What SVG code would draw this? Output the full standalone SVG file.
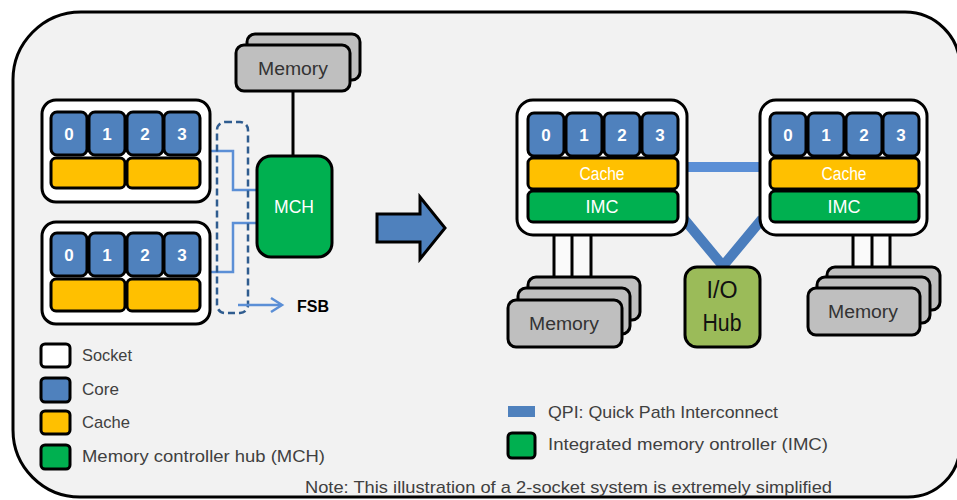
<svg xmlns="http://www.w3.org/2000/svg" width="957" height="500" viewBox="0 0 957 500">
<style>
.frame{fill:#f2f2f2;stroke:#000;stroke-width:3}
.sock{fill:#fff;stroke:#000;stroke-width:3}
.core{fill:#4f81bd;stroke:#000;stroke-width:3}
.cache{fill:#ffc000;stroke:#000;stroke-width:3}
.green{fill:#00b050;stroke:#000;stroke-width:3}
.mem{fill:#bfbfbf;stroke:#000;stroke-width:3}
.io{fill:#9bbb59;stroke:#000;stroke-width:3}
.num{font-family:"Liberation Sans",Arial,sans-serif;font-weight:bold;font-size:17px;fill:#fff;text-anchor:middle}
.wt{font-family:"Liberation Sans",Arial,sans-serif;font-size:18px;fill:#fff;text-anchor:middle}
.mt{font-family:"Liberation Sans",Arial,sans-serif;font-size:18px;fill:#333;text-anchor:middle}
.lg{font-family:"Liberation Sans",Arial,sans-serif;font-size:17px;fill:#404040}
.blk{stroke:#000;stroke-width:3;fill:none}
.fsb{stroke:#5b8fd6;stroke-width:2.5;fill:none}
</style>
<path class="frame" d="M81,12 H905 A55,55 0 0 1 960,67 V445 A52,52 0 0 1 908,497 H80 A67,67 0 0 1 13,430 V81 A68,68 0 0 1 81,12 Z"/>

<g id="connectors">
  <line class="blk" x1="293" y1="91" x2="293" y2="156"/>
  <polyline class="fsb" points="211,151 233,151 233,190 256,190"/>
  <polyline class="fsb" points="256,223 233,223 233,272 211,272"/>
  <rect x="217" y="122" width="31" height="191" rx="8" fill="none" stroke="#2f5c8f" stroke-width="2.5" stroke-dasharray="7 4"/>
  <line class="fsb" x1="238" y1="305" x2="281" y2="305" stroke-width="3"/>
  <polyline class="fsb" points="271,298 282,305 271,312" stroke-width="3"/>
  <line x1="686" y1="167" x2="760" y2="167" stroke="#5b8fd6" stroke-width="10"/>
  <polyline points="684,219 723,266 762,219" fill="none" stroke="#4a7dbd" stroke-width="10"/>
  <rect x="555" y="236" width="36" height="42" fill="#fafafa"/>
  <line class="blk" x1="554" y1="235" x2="554" y2="278" stroke-width="4"/>
  <line class="blk" x1="572" y1="235" x2="572" y2="278" stroke-width="4"/>
  <line class="blk" x1="591" y1="235" x2="591" y2="278" stroke-width="4"/>
  <rect x="855" y="236" width="35" height="32" fill="#fafafa"/>
  <line class="blk" x1="853" y1="235" x2="853" y2="268" stroke-width="4"/>
  <line class="blk" x1="872" y1="235" x2="872" y2="268" stroke-width="4"/>
  <line class="blk" x1="890" y1="235" x2="890" y2="268" stroke-width="4"/>
</g>

<g id="socket-left-1">
  <rect class="sock" x="42" y="100" width="168" height="102" rx="14"/>
  <rect class="core" x="51" y="112" width="36" height="43" rx="6"/>
  <rect class="core" x="89" y="112" width="36" height="43" rx="6"/>
  <rect class="core" x="127" y="112" width="36" height="43" rx="6"/>
  <rect class="core" x="164" y="112" width="36" height="43" rx="6"/>
  <text class="num" x="69" y="140">0</text>
  <text class="num" x="107" y="140">1</text>
  <text class="num" x="145" y="140">2</text>
  <text class="num" x="182" y="140">3</text>
  <rect class="cache" x="51" y="158" width="74" height="30" rx="5"/>
  <rect class="cache" x="127" y="158" width="73" height="30" rx="5"/>
</g>

<g id="socket-left-2">
  <rect class="sock" x="42" y="222" width="168" height="102" rx="14"/>
  <rect class="core" x="51" y="233" width="36" height="43" rx="6"/>
  <rect class="core" x="89" y="233" width="36" height="43" rx="6"/>
  <rect class="core" x="127" y="233" width="36" height="43" rx="6"/>
  <rect class="core" x="164" y="233" width="36" height="43" rx="6"/>
  <text class="num" x="69" y="261">0</text>
  <text class="num" x="107" y="261">1</text>
  <text class="num" x="145" y="261">2</text>
  <text class="num" x="182" y="261">3</text>
  <rect class="cache" x="51" y="279" width="74" height="32" rx="5"/>
  <rect class="cache" x="127" y="279" width="73" height="32" rx="5"/>
</g>

<g id="memory-left">
  <rect class="mem" x="247" y="34" width="113" height="46" rx="8"/>
  <rect class="mem" x="236" y="45" width="114" height="46" rx="8"/>
  <text class="mt" x="293" y="75" textLength="70" lengthAdjust="spacingAndGlyphs">Memory</text>
</g>

<g id="mch">
  <rect class="green" x="257" y="156" width="75" height="101" rx="14"/>
  <text class="wt" x="294" y="213" textLength="40" lengthAdjust="spacingAndGlyphs">MCH</text>
</g>

<text id="fsb-label" x="297" y="312" font-family="Liberation Sans,Arial,sans-serif" font-weight="bold" font-size="16" fill="#000">FSB</text>

<g id="big-arrow">
  <polygon points="377,214 420,214 420,197 445,228 420,259 420,242 377,242" fill="#4f81bd" stroke="#000" stroke-width="3" stroke-linejoin="miter"/>
</g>

<g id="socket-right-1">
  <rect class="sock" x="517" y="100" width="170" height="135" rx="16"/>
  <rect class="core" x="528" y="113" width="36" height="43" rx="6"/>
  <rect class="core" x="566" y="113" width="36" height="43" rx="6"/>
  <rect class="core" x="604" y="113" width="36" height="43" rx="6"/>
  <rect class="core" x="642" y="113" width="36" height="43" rx="6"/>
  <text class="num" x="546" y="141">0</text>
  <text class="num" x="584" y="141">1</text>
  <text class="num" x="622" y="141">2</text>
  <text class="num" x="660" y="141">3</text>
  <rect class="cache" x="528" y="158" width="150" height="31" rx="5"/>
  <text class="wt" x="602" y="180" textLength="45" lengthAdjust="spacingAndGlyphs">Cache</text>
  <rect class="green" x="528" y="191" width="150" height="31" rx="5"/>
  <text class="wt" x="602" y="213" textLength="33" lengthAdjust="spacingAndGlyphs">IMC</text>
</g>

<g id="socket-right-2">
  <rect class="sock" x="760" y="100" width="167" height="135" rx="16"/>
  <rect class="core" x="770" y="113" width="36" height="43" rx="6"/>
  <rect class="core" x="808" y="113" width="36" height="43" rx="6"/>
  <rect class="core" x="846" y="113" width="36" height="43" rx="6"/>
  <rect class="core" x="883" y="113" width="36" height="43" rx="6"/>
  <text class="num" x="788" y="141">0</text>
  <text class="num" x="826" y="141">1</text>
  <text class="num" x="864" y="141">2</text>
  <text class="num" x="901" y="141">3</text>
  <rect class="cache" x="770" y="158" width="149" height="31" rx="5"/>
  <text class="wt" x="844" y="180" textLength="45" lengthAdjust="spacingAndGlyphs">Cache</text>
  <rect class="green" x="770" y="191" width="149" height="31" rx="5"/>
  <text class="wt" x="844" y="213" textLength="33" lengthAdjust="spacingAndGlyphs">IMC</text>
</g>

<g id="io-hub">
  <rect class="io" x="685" y="267" width="75" height="80" rx="12"/>
  <text x="722" y="298" font-family="Liberation Sans,Arial,sans-serif" font-size="23" fill="#111" text-anchor="middle" textLength="31" lengthAdjust="spacingAndGlyphs">I/O</text>
  <text x="722" y="331" font-family="Liberation Sans,Arial,sans-serif" font-size="23" fill="#111" text-anchor="middle" textLength="39" lengthAdjust="spacingAndGlyphs">Hub</text>
</g>

<g id="memory-right-1">
  <rect class="mem" x="528" y="277" width="112" height="43" rx="8"/>
  <rect class="mem" x="518" y="288" width="112" height="46" rx="8"/>
  <rect class="mem" x="508" y="300" width="114" height="47" rx="8"/>
  <text class="mt" x="564" y="330" textLength="70" lengthAdjust="spacingAndGlyphs">Memory</text>
</g>

<g id="memory-right-2">
  <rect class="mem" x="827" y="267" width="113" height="43" rx="8"/>
  <rect class="mem" x="817" y="277" width="113" height="46" rx="8"/>
  <rect class="mem" x="808" y="288" width="112" height="47" rx="8"/>
  <text class="mt" x="863" y="318" textLength="70" lengthAdjust="spacingAndGlyphs">Memory</text>
</g>

<g id="legend-left">
  <rect x="41" y="344" width="29" height="23" rx="4" fill="#fff" stroke="#000" stroke-width="3"/>
  <text class="lg" x="82" y="361" textLength="50" lengthAdjust="spacingAndGlyphs">Socket</text>
  <rect x="41" y="378" width="29" height="24" rx="4" fill="#4f81bd" stroke="#000" stroke-width="3"/>
  <text class="lg" x="82" y="395" textLength="37" lengthAdjust="spacingAndGlyphs">Core</text>
  <rect x="41" y="411" width="29" height="23" rx="4" fill="#ffc000" stroke="#000" stroke-width="3"/>
  <text class="lg" x="82" y="428" textLength="48" lengthAdjust="spacingAndGlyphs">Cache</text>
  <rect x="41" y="445" width="29" height="24" rx="4" fill="#00b050" stroke="#000" stroke-width="3"/>
  <text class="lg" x="82" y="462" textLength="243" lengthAdjust="spacingAndGlyphs">Memory controller hub (MCH)</text>
</g>

<g id="legend-right">
  <rect x="508" y="406" width="27" height="11" fill="#4f81bd"/>
  <text class="lg" x="548" y="418" textLength="230" lengthAdjust="spacingAndGlyphs">QPI: Quick Path Interconnect</text>
  <rect x="508" y="433" width="27" height="25" rx="4" fill="#00b050" stroke="#000" stroke-width="3"/>
  <text class="lg" x="548" y="450" textLength="280" lengthAdjust="spacingAndGlyphs">Integrated memory ontroller (IMC)</text>
</g>

<text id="note" class="lg" x="305" y="493" textLength="527" lengthAdjust="spacingAndGlyphs">Note: This illustration of a 2-socket system is extremely simplified</text>
</svg>
